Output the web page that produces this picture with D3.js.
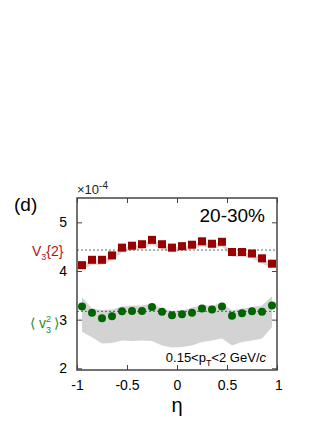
<!DOCTYPE html>
<html>
<head>
<meta charset="utf-8">
<script src="https://cdn.jsdelivr.net/npm/d3@7"></script>
<style>
  body { margin: 0; background: #fff; }
  svg text { font-family: "Liberation Sans", Arial, Helvetica, sans-serif; }
</style>
</head>
<body>
<div id="viz"></div>
<script>
// eta bin centres
var eta = [-0.95, -0.85, -0.75, -0.65, -0.55, -0.45, -0.35, -0.25, -0.15, -0.05,
            0.05,  0.15,  0.25,  0.35,  0.45,  0.55,  0.65,  0.75,  0.85,  0.95];

// V3{2} (x 1e-4)
var v32 = [4.12, 4.23, 4.23, 4.32, 4.48, 4.52, 4.55, 4.64, 4.55, 4.48,
           4.51, 4.54, 4.61, 4.56, 4.60, 4.39, 4.39, 4.36, 4.26, 4.15];

// <v3^2> (x 1e-4) and its systematic band
var v3sq = [3.27, 3.14, 3.03, 3.07, 3.17, 3.18, 3.18, 3.26, 3.16, 3.09,
            3.11, 3.14, 3.23, 3.21, 3.27, 3.08, 3.13, 3.17, 3.16, 3.29];
var bandHi = [3.46, 3.23, 3.20, 3.21, 3.27, 3.29, 3.29, 3.33, 3.23, 3.18,
              3.19, 3.25, 3.29, 3.29, 3.34, 3.19, 3.23, 3.26, 3.29, 3.48];
var bandLo = [2.75, 2.64, 2.51, 2.52, 2.57, 2.56, 2.57, 2.56, 2.47, 2.43,
              2.44, 2.47, 2.54, 2.57, 2.61, 2.47, 2.54, 2.57, 2.61, 2.85];

// eta-averaged reference lines
var meanV32 = 4.43;
var meanV3sq = 3.17;

var xTicks = [-1, -0.5, 0, 0.5, 1];
var xTickLabels = ["-1", "-0.5", "0", "0.5", "1"];
var yTicks = [2, 3, 4, 5];

var svg = d3.select("#viz")
    .append("svg")
    .attr("width", 332)
    .attr("height", 430);

var x = d3.scaleLinear().domain([-1, 1]).range([77, 277]);
var y = d3.scaleLinear().domain([1.965, 5.5]).range([370, 198]);

var frameCol = "#444";

// systematic bands
svg.append("path")
    .datum(eta)
    .attr("fill", "#d3d3d3")
    .attr("d", d3.area()
        .x(function(d){ return x(d); })
        .y0(function(d,i){ return y(bandLo[i]); })
        .y1(function(d,i){ return y(bandHi[i]); }));

svg.append("path")
    .datum(eta)
    .attr("fill", "#d8d8d8")
    .attr("d", d3.area()
        .x(function(d){ return x(d); })
        .y0(function(d,i){ return y(v32[i] - 0.1); })
        .y1(function(d,i){ return y(v32[i]); }));

// dashed average lines
[meanV32, meanV3sq].forEach(function(m){
  svg.append("line")
      .attr("x1", x(-1)).attr("x2", x(1))
      .attr("y1", y(m)).attr("y2", y(m))
      .attr("stroke", "#444")
      .attr("stroke-width", 0.8)
      .attr("stroke-dasharray", "2,2");
});

// V3{2} squares
svg.selectAll("rect.v32")
    .data(v32)
    .enter()
    .append("rect")
    .attr("class", "v32")
    .attr("width", 8)
    .attr("height", 8)
    .attr("x", function(d,i){ return x(eta[i]) - 4; })
    .attr("y", function(d){ return y(d) - 4; })
    .attr("fill", "#990000");

// <v3^2> circles
svg.selectAll("circle.v3sq")
    .data(v3sq)
    .enter()
    .append("circle")
    .attr("class", "v3sq")
    .attr("r", 4)
    .attr("cx", function(d,i){ return x(eta[i]); })
    .attr("cy", function(d){ return y(d); })
    .attr("fill", "#006400");

// frame
svg.append("rect")
    .attr("x", 77).attr("y", 198)
    .attr("width", 200).attr("height", 172)
    .attr("fill", "none")
    .attr("stroke", frameCol)
    .attr("stroke-width", 1.5);

// axes with inward ticks
var xAxis = d3.axisBottom(x).tickValues(xTicks)
    .tickFormat(function(d,i){ return xTickLabels[i]; })
    .tickSizeInner(-5).tickSizeOuter(0).tickPadding(10);
var gx = svg.append("g").attr("transform", "translate(0,370)").call(xAxis);
var gxTop = svg.append("g").attr("transform", "translate(0,198)")
    .call(d3.axisTop(x).tickValues(xTicks).tickSizeInner(-5).tickSizeOuter(0).tickFormat(""));

var yAxis = d3.axisLeft(y).tickValues(yTicks).tickFormat(d3.format("d"))
    .tickSizeInner(-5).tickSizeOuter(0).tickPadding(10);
var gy = svg.append("g").attr("transform", "translate(77,0)").call(yAxis);
var gyR = svg.append("g").attr("transform", "translate(277,0)")
    .call(d3.axisRight(y).tickValues(yTicks).tickSizeInner(-5).tickSizeOuter(0).tickFormat(""));

[gx, gxTop, gy, gyR].forEach(function(g){
  g.select(".domain").remove();
  g.selectAll(".tick line").attr("stroke", frameCol).attr("stroke-width", 1);
  g.selectAll(".tick text")
      .attr("fill", "#000")
      .style("font-size", "14px")
      .style("font-family", "'Liberation Sans', Arial, sans-serif");
});
gx.selectAll(".tick text").filter(function(d){ return d === 1; }).attr("dx", "0.1em");

// labels
svg.append("text").attr("x", 14).attr("y", 211)
    .style("font-size", "19px").text("(d)");

var mult = svg.append("text").attr("x", 77).attr("y", 194)
    .style("font-size", "13px").attr("fill", "#222");
mult.append("tspan").text("\u00d710");
mult.append("tspan").attr("dy", -5).style("font-size", "10px").text("-4");

svg.append("text").attr("x", 265).attr("y", 222)
    .attr("text-anchor", "end")
    .style("font-size", "19px").text("20-30%");

var pt = svg.append("text").attr("x", 266).attr("y", 362)
    .attr("text-anchor", "end").style("font-size", "13px");
pt.append("tspan").text("0.15<p");
pt.append("tspan").attr("dy", 4).style("font-size", "9px").text("T");
pt.append("tspan").attr("dy", -4).text("<2 GeV/");
pt.append("tspan").style("font-style", "italic").text("c");

svg.append("text").attr("x", x(0)).attr("y", 412)
    .attr("text-anchor", "middle")
    .style("font-size", "20px").text("\u03b7");

var lab1 = svg.append("text").attr("x", 32).attr("y", 256)
    .attr("fill", "#b01515").style("font-size", "14px");
lab1.append("tspan").text("V");
lab1.append("tspan").attr("dy", 4).style("font-size", "9px").text("3");
lab1.append("tspan").attr("dy", -4).text("{2}");

var lab2 = svg.append("text").attr("x", 30).attr("y", 328)
    .attr("fill", "#1f8a1f").style("font-size", "14px");
lab2.append("tspan").text("\u27e8 v");
lab2.append("tspan").attr("dy", -6).style("font-size", "9px").text("2");
lab2.append("tspan").attr("dx", -5).attr("dy", 11).style("font-size", "9px").text("3");
lab2.append("tspan").attr("dx", 3).attr("dy", -5).text("\u27e9");
</script>
</body>
</html>
